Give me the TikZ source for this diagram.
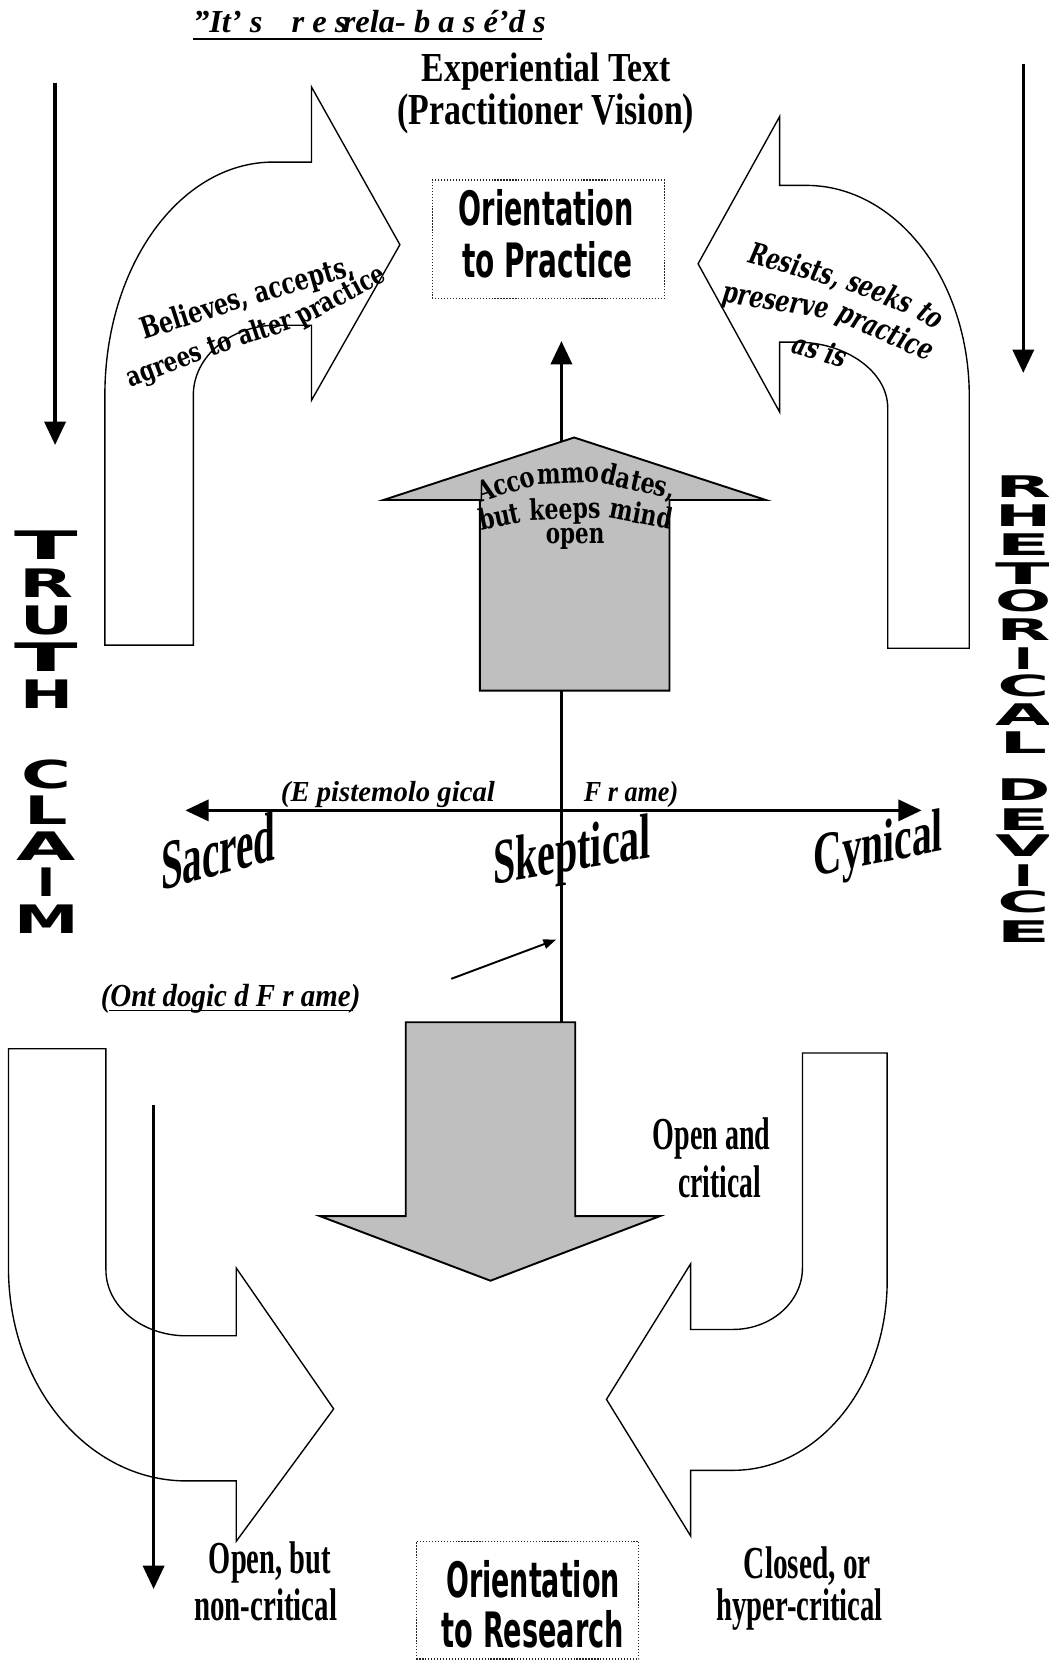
\documentclass[tikz,border=0pt]{standalone}
\usepackage{fontspec}
\setmainfont{Liberation Serif}
\newfontfamily\boxsans{DejaVu Sans}
\newfontfamily\blockfont{DejaVu Sans}
\newfontfamily\artserif{DejaVu Serif}
\usetikzlibrary{arrows.meta}
% squeeze a piece of text into a given width and height (in pt)
\newcommand\fitbox[3]{\resizebox{#1pt}{#2pt}{#3}}
% heavy serif, narrowed, for the words that follow the arrow bends:
% #1 font size, #2 horizontal scale, #3 text
\newcommand\artline[3]{\scalebox{#2}[1]{\artserif\fontsize{#1}{#1}\selectfont\bfseries #3}}
\newcommand\artlinei[3]{\scalebox{#2}[1]{\artserif\fontsize{#1}{#1}\selectfont\bfseries\itshape #3}}
\begin{document}
\begin{tikzpicture}[x=1pt,y=-1pt,
  outline/.style={draw=black,line width=1.3pt,fill=white,line join=miter},
  grayarrow/.style={draw=black,line width=1.8pt,fill=black!25,line join=miter},
  heavy/.style={line width=3pt},
  bighead/.style={-{Triangle[length=22pt,width=20pt]}},
  dotbox/.style={draw=black!85,line width=1.2pt,dash pattern=on 1.2pt off 1.6pt,inner sep=0pt},
  lbl/.style={inner sep=0pt,anchor=base west},
  arcword/.style={rotate=#1,anchor=base west,inner sep=0pt},
]
\useasboundingbox (0,0) rectangle (990,1568);

% ---------- curved outline arrows ----------
% upper left: turns right towards practice
\draw[outline] (99,609) -- (99,373) .. controls (99,251) and (170,153) .. (258,153)
  -- (294,153) -- (294,82) -- (377.5,231) -- (294,378) -- (294,307) -- (261,307)
  .. controls (217.7,307) and (182.5,336.6) .. (182.5,373) -- (182.5,609) -- cycle;
% upper right: turns left towards practice
\draw[outline] (838,612) -- (838,385) .. controls (838,351) and (799,323) .. (752,323)
  -- (736,323) -- (736,389) -- (659,249) -- (736,110) -- (736,175) -- (761,175)
  .. controls (846,175) and (915,264) .. (915,374) -- (915,612) -- cycle;
% lower left
\draw[outline] (8,990) -- (100,990) -- (100,1199) .. controls (100,1233) and (134,1261) .. (176,1261)
  -- (223,1261) -- (223,1197) -- (315,1330) -- (223,1455) -- (223,1398) -- (176,1398)
  .. controls (83,1398) and (8,1308) .. (8,1197) -- cycle;
% lower right
\draw[outline] (757.5,994) -- (837.5,994) -- (837.5,1209) .. controls (837.5,1308) and (772,1388) .. (692,1388)
  -- (652,1388) -- (652,1450) -- (572.5,1321) -- (652,1193) -- (652,1255) -- (692,1255)
  .. controls (728,1255) and (757.5,1229) .. (757.5,1197) -- cycle;

% ---------- grey block arrows ----------
\draw[grayarrow] (453,652) -- (453,472) -- (362,472) -- (542,413) -- (723,472) -- (632,472) -- (632,652) -- cycle;
\draw[grayarrow] (383,965) -- (543,965) -- (543,1148) -- (623,1148) -- (463,1209) -- (302,1148) -- (383,1148) -- cycle;

% ---------- axes ----------
\coordinate (vTop) at (530,652);
\coordinate (vBot) at (530,965);
\coordinate (upFoot) at (530,416);
\coordinate (upTip) at (530,322);
\coordinate (hLeft) at (175,765);
\coordinate (hRight) at (870,765);
\draw[heavy] (vBot) -- (vTop);
\draw[heavy,bighead] (upFoot) -- (upTip);
\draw[heavy,{Triangle[length=22pt,width=20pt]}-{Triangle[length=22pt,width=20pt]}] (hLeft) -- (hRight);

% side arrows
\coordinate (lTop) at (52,78);   \coordinate (lTip) at (52,420);
\coordinate (rTop) at (966,60);  \coordinate (rTip) at (966,352);
\coordinate (bTop) at (145,1043); \coordinate (bTip) at (145,1500);
\draw[heavy,bighead] (lTop) -- (lTip);
\draw[heavy,bighead] (rTop) -- (rTip);
\draw[heavy,bighead] (bTop) -- (bTip);

% pointer to the vertical axis
\coordinate (pFoot) at (426,924);
\coordinate (pTip) at (525,887);
\draw[line width=1.8pt,-{Triangle[length=12pt,width=9pt]}] (pFoot) -- (pTip);

% ---------- headings ----------
\node[lbl] (quote) at (182,31) {\fitbox{333}{21}{\bfseries\itshape ''It' s\hspace{0.9em}r e s\hspace{-0.15em}rela- b a s é'd s}};
\draw[line width=2pt] (quote.base west) ++(0,6) -- ++(330,0);
\node[lbl] (exper) at (398,77) {\fitbox{235}{27}{\bfseries Experiential Text}};
\node[lbl] (vision) at (375,118) {\fitbox{280}{29}{\bfseries (Practitioner Vision)}};

% ---------- orientation boxes ----------
\node[dotbox,minimum width=219pt,minimum height=112pt] (practice) at (517.5,226) {};
\node[lbl] (pr1) at (433,213) {\fitbox{165}{34}{\boxsans\bfseries Orientation}};
\node[lbl] (pr2) at (436,262) {\fitbox{161}{34}{\boxsans\bfseries to Practice}};

\node[dotbox,minimum width=210pt,minimum height=111pt] (research) at (498,1510.5) {};
\node[lbl] (re1) at (421,1508) {\fitbox{164}{35}{\boxsans\bfseries Orientation}};
\node[lbl] (re2) at (417,1555) {\fitbox{172}{35}{\boxsans\bfseries to Research}};

% ---------- frame labels ----------
\node[lbl] (epi1) at (265,757) {\fitbox{202}{19}{\bfseries\itshape (E pistemolo gical}};
\node[lbl] (epi2) at (551,757) {\fitbox{89}{19}{\bfseries\itshape F r ame)}};
\node[lbl] (onto) at (95,950) {\fitbox{245}{21}{\bfseries\itshape (Ont dogic d F r ame)}};
\draw[line width=1.5pt] (103,954) -- (333,954);

% slanted stance words
\begin{scope}[shift={(206,826)},yslant=0.27]
  \node[inner sep=0pt,anchor=base,transform shape] (sacred) at (0,0) {\fitbox{108}{46}{\bfseries Sacred}};
\end{scope}
\begin{scope}[shift={(540,822)},yslant=0.17]
  \node[inner sep=0pt,anchor=base,transform shape] (skept) at (0,0) {\fitbox{149}{42}{\bfseries Skeptical}};
\end{scope}
\begin{scope}[shift={(829,815)},yslant=0.2]
  \node[inner sep=0pt,anchor=base,transform shape] (cynic) at (0,0) {\fitbox{122}{40}{\bfseries Cynical}};
\end{scope}

% ---------- lower captions ----------
\node[lbl] (oc1) at (616,1085) {\fitbox{111}{30}{\bfseries Open and}};
\node[lbl] (oc2) at (640,1130) {\fitbox{78}{30}{\bfseries critical}};
\node[lbl] (ob1) at (197,1485) {\fitbox{115}{30}{\bfseries Open, but}};
\node[lbl] (ob2) at (183,1530) {\fitbox{135}{30}{\bfseries non-critical}};
\node[lbl] (cl1) at (702,1490) {\fitbox{120}{30}{\bfseries Closed, or}};
\node[lbl] (cl2) at (676,1530) {\fitbox{157}{30}{\bfseries hyper-critical}};

% ---------- words bent along the arrows (each word follows the one before) ----------
% upper left arrow
\node[arcword=18] (bel1) at (136,321) {\artline{28}{0.75}{Believes,\ }};
\node[arcword=16] (bel2) at (bel1.base east) {\artline{28}{0.75}{accepts,}};
\node[arcword=21] (agr1) at (123,366) {\artline{26}{0.77}{agrees\ }};
\node[arcword=20] (agr2) at (agr1.base east) {\artline{26}{0.77}{to\ }};
\node[arcword=18] (agr3) at (agr2.base east) {\artline{26}{0.77}{alter\ }};
\node[arcword=28] (agr4) at (agr3.base east) {\artline{26}{0.77}{practice}};
% upper right arrow
\node[arcword=-15] (res1) at (705,248) {\artlinei{28}{0.73}{Resists,\ }};
\node[arcword=-22] (res2) at (res1.base east) {\artlinei{28}{0.73}{seeks\ }};
\node[arcword=-33] (res3) at (res2.base east) {\artlinei{28}{0.73}{to}};
\node[arcword=-9] (pre1) at (681,285) {\artlinei{28}{0.75}{preserve\ }};
\node[arcword=-24] (pre2) at (pre1.base east) {\artlinei{28}{0.75}{practice}};
\node[arcword=-16] (asis) at (746,333) {\artlinei{27}{0.77}{as is}};
% grey upward arrow
\node[arcword=17] (acc1) at (453,474) {\artline{27}{0.78}{Acco}};
\node[arcword=2] (acc2) at (acc1.base east) {\artline{27}{0.78}{mmo}};
\node[arcword=-13] (acc3) at (acc2.base east) {\artline{27}{0.78}{dates,}};
\node[arcword=12] (but1) at (454,501) {\artline{27}{0.77}{but\ }};
\node[arcword=2] (but2) at (but1.base east) {\artline{27}{0.77}{keeps\ }};
\node[arcword=-11] (but3) at (but2.base east) {\artline{27}{0.77}{mind}};
\node[inner sep=0pt,anchor=base] (opn) at (543,513) {\artline{27}{0.75}{open}};

% ---------- stacked side words ----------
\foreach \ch/\yy/\ww [count=\k] in {T/501/60,R/537/51,U/572/50,T/607/60,H/642/50,C/717/47,L/751/41,A/785/56,I/819/17,M/854/61}
  \node[inner sep=0pt,anchor=north] (truth\k) at (44,\yy) {\resizebox{\ww pt}{27pt}{\blockfont\bfseries\ch}};
\foreach \ch/\yy/\ww [count=\k] in {R/449/53,H/476/53,E/504/51,T/531/53,O/557/53,R/584/51,I/611/18,C/637/49,A/664/53,L/691/45,D/735/51,E/763/49,V/788/53,I/816/18,C/841/49,E/869/51}
  \node[inner sep=0pt,anchor=north] (rhet\k) at (966,\yy) {\resizebox{\ww pt}{20.5pt}{\blockfont\bfseries\ch}};
\end{tikzpicture}
\end{document}
